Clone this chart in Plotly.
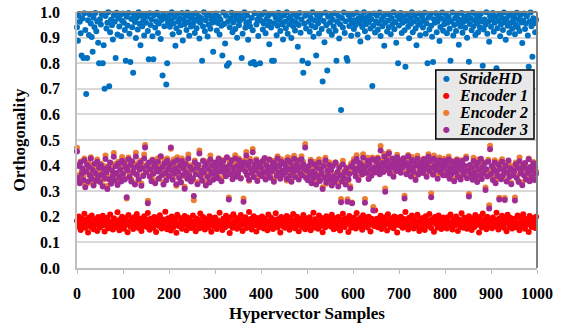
import plotly.graph_objects as go

# Sample indices (every other hypervector sample)
samples = list(range(0, 1000, 2))

# Orthogonality values (x1000), read/
stridehd = [
    940, 888, 985, 962, 917, 830, 975, 820, 995, 930, 680, 820, 968, 910, 990, 955, 902, 845, 978, 940, 996, 925, 963, 880, 800,
    972, 951, 990, 800, 870, 700, 984, 936, 958, 999, 710, 921, 970, 948, 893, 986, 962, 820, 997, 912, 975, 943, 988, 905, 966,
    994, 958, 930, 810, 981, 947, 996, 915, 805, 973, 940, 763, 989, 961, 898, 978, 932, 999, 954, 870, 985, 944, 967, 908, 992,
    958, 981, 926, 815, 995, 949, 972, 905, 815, 988, 939, 964, 997, 918, 955, 983, 895, 969, 752, 990, 944, 976, 717, 800, 960,
    987, 942, 968, 999, 913, 956, 980, 868, 937, 993, 962, 921, 975, 948, 996, 889, 970, 952, 984, 930, 998, 960, 907, 979, 943,
    990, 953, 972, 918, 995, 937, 966, 984, 896, 958, 977, 810, 943, 999, 925, 968, 987, 904, 950, 992, 935, 974, 958, 845, 983,
    965, 994, 928, 957, 981, 912, 970, 946, 830, 998, 953, 877, 985, 790, 962, 800, 940, 976, 997, 921, 959, 988, 934, 971, 899,
    992, 948, 966, 983, 820, 915, 975, 999, 938, 957, 986, 892, 962, 944, 800, 978, 929, 805, 995, 795, 951, 970, 906, 984, 800,
    966, 990, 932, 955, 998, 917, 973, 948, 985, 874, 961, 939, 810, 993, 810, 956, 978, 909, 946, 997, 969, 926, 982, 951, 893,
    987, 962, 937, 999, 915, 974, 952, 983, 898, 966, 944, 991, 928, 958, 980, 864, 949, 996, 919, 971, 810, 763, 955, 985, 936,
    993, 800, 962, 923, 978, 946, 999, 903, 968, 940, 830, 987, 955, 916, 974, 991, 934, 729, 965, 882, 997, 948, 771, 981, 926,
    959, 986, 911, 970, 943, 995, 927, 810, 962, 984, 896, 952, 617, 977, 939, 998, 918, 964, 820, 810, 988, 945, 971, 907, 956,
    991, 934, 968, 949, 997, 912, 975, 957, 885, 983, 941, 966, 999, 925, 952, 979, 900, 960, 987, 936, 972, 711, 946, 994, 920,
    963, 985, 931, 955, 998, 906, 970, 944, 982, 868, 958, 992, 924, 967, 940, 989, 913, 976, 953, 999, 933, 961, 880, 984, 800,
    947, 973, 996, 918, 958, 981, 929, 786, 965, 990, 942, 897, 977, 954, 999, 921, 963, 985, 936, 870, 971, 950, 994, 909, 960,
    983, 939, 968, 997, 915, 955, 800, 978, 932, 989, 946, 903, 805, 972, 958, 995, 921, 963, 984, 887, 941, 975, 998, 927, 952,
    969, 991, 917, 958, 980, 935, 810, 964, 998, 908, 949, 976, 926, 987, 955, 872, 970, 943, 996, 919, 961, 982, 938, 967, 899,
    986, 806, 953, 975, 929, 997, 944, 968, 910, 988, 957, 921, 979, 940, 993, 964, 790, 932, 971, 950, 999, 915, 962, 884, 983,
    942, 970, 996, 923, 958, 981, 780, 937, 966, 990, 905, 952, 977, 930, 998, 961, 892, 974, 946, 985, 919, 956, 993, 935, 968,
    980, 913, 951, 997, 940, 972, 926, 988, 959, 879, 967, 994, 934, 955, 983, 908, 786, 963, 998, 944, 825, 976, 956, 921, 970,
]

encoder1 = [
    185, 162, 201, 174, 148, 193, 178, 166, 212, 157, 188, 171, 139, 197, 182, 160, 205, 176, 151, 190, 168, 184, 145, 199, 173,
    158, 191, 176, 204, 167, 143, 187, 172, 196, 155, 181, 209, 163, 177, 150, 194, 170, 186, 159, 218, 175, 147, 189, 165, 200,
    179, 153, 195, 169, 183, 140, 207, 172, 161, 190, 176, 152, 198, 184, 166, 211, 171, 156, 193, 179, 145, 187, 163, 202, 174,
    188, 160, 215, 177, 149, 192, 168, 185, 157, 199, 173, 141, 196, 181, 164, 206, 170, 154, 189, 176, 162, 220, 183, 151, 194,
    167, 186, 146, 201, 175, 159, 191, 180, 138, 208, 171, 163, 195, 178, 153, 187, 169, 203, 182, 147, 197, 165, 190, 174, 156,
    183, 205, 161, 179, 144, 193, 172, 188, 155, 213, 176, 164, 199, 181, 150, 190, 167, 185, 158, 202, 173, 142, 194, 178, 162,
    197, 170, 152, 186, 175, 216, 163, 180, 148, 192, 177, 159, 204, 184, 166, 189, 137, 198, 172, 157, 210, 181, 168, 195, 153,
    176, 190, 160, 207, 173, 145, 185, 169, 198, 156, 182, 174, 219, 163, 191, 150, 179, 202, 167, 186, 143, 195, 171, 159, 188,
    165, 201, 178, 154, 193, 170, 184, 147, 209, 175, 161, 196, 180, 152, 188, 168, 214, 177, 158, 191, 172, 139, 199, 183, 163,
    189, 157, 174, 203, 168, 182, 149, 196, 176, 162, 211, 185, 155, 178, 200, 166, 144, 192, 173, 187, 160, 207, 179, 151, 194,
    171, 186, 163, 198, 147, 181, 175, 216, 158, 190, 169, 184, 153, 205, 177, 164, 195, 140, 188, 172, 159, 202, 180, 167, 193,
    184, 162, 208, 176, 151, 194, 170, 183, 156, 199, 174, 146, 189, 166, 212, 179, 160, 193, 172, 185, 141, 203, 177, 157, 190,
    168, 197, 180, 154, 215, 173, 188, 161, 195, 177, 149, 206, 183, 166, 190, 172, 158, 200, 181, 143, 192, 170, 186, 164, 226,
    175, 192, 159, 183, 170, 204, 152, 188, 176, 165, 198, 181, 146, 210, 171, 187, 160, 194, 178, 155, 201, 167, 184, 139, 196,
    182, 166, 200, 174, 157, 191, 179, 219, 163, 186, 150, 196, 173, 168, 205, 180, 154, 189, 172, 161, 208, 177, 145, 193, 185,
    160, 195, 178, 148, 202, 170, 187, 164, 211, 176, 156, 190, 182, 142, 199, 173, 186, 158, 205, 169, 191, 152, 180, 197, 167,
    187, 171, 154, 198, 180, 163, 209, 175, 150, 193, 184, 166, 201, 172, 145, 189, 178, 160, 214, 183, 157, 196, 170, 188, 153,
    173, 202, 165, 186, 148, 194, 178, 160, 207, 181, 169, 190, 139, 199, 175, 158, 213, 184, 167, 192, 151, 200, 176, 162, 185,
    179, 155, 197, 170, 188, 163, 216, 174, 150, 193, 182, 166, 204, 171, 157, 189, 177, 144, 208, 185, 162, 196, 173, 154, 190,
    166, 192, 181, 158, 205, 173, 147, 198, 186, 164, 210, 177, 153, 191, 170, 185, 141, 203, 179, 160, 195, 172, 188, 156, 200,
]

encoder2 = [
    470, 361, 404, 343, 416, 377, 384, 357, 428, 326, 379, 411, 332, 407, 369, 433, 363, 385, 332, 403, 381, 348, 424, 371, 396,
    345, 407, 377, 322, 398, 347, 439, 380, 320, 397, 356, 406, 341, 389, 365, 449, 344, 407, 367, 335, 415, 364, 399, 342, 434,
    373, 421, 350, 403, 271, 394, 432, 366, 405, 347, 411, 384, 399, 331, 450, 366, 409, 343, 395, 419, 330, 403, 363, 443, 480,
    386, 402, 263, 407, 370, 393, 350, 424, 377, 398, 343, 400, 382, 429, 351, 394, 433, 373, 402, 335, 421, 375, 358, 428, 392,
    363, 412, 466, 394, 352, 424, 371, 399, 321, 433, 384, 357, 413, 336, 428, 359, 398, 317, 415, 385, 353, 443, 370, 401, 350,
    394, 345, 265, 420, 377, 395, 336, 396, 459, 367, 385, 355, 420, 383, 392, 333, 416, 364, 400, 338, 439, 377, 407, 357, 383,
    407, 377, 404, 362, 429, 387, 399, 351, 396, 422, 385, 396, 368, 429, 393, 275, 412, 379, 423, 362, 400, 380, 440, 360, 408,
    382, 428, 396, 353, 417, 387, 271, 420, 382, 453, 364, 409, 341, 427, 393, 381, 465, 359, 417, 390, 425, 352, 400, 377, 405,
    399, 369, 420, 384, 424, 358, 409, 389, 380, 425, 363, 391, 389, 419, 346, 418, 393, 375, 437, 377, 410, 353, 425, 376, 377,
    418, 376, 405, 342, 433, 393, 364, 427, 339, 402, 372, 438, 362, 410, 396, 422, 361, 403, 375, 437, 365, 414, 383, 484, 359,
    383, 352, 392, 374, 423, 336, 391, 354, 414, 364, 337, 398, 365, 425, 344, 400, 376, 315, 410, 356, 431, 329, 392, 368, 413,
    354, 376, 334, 405, 363, 350, 413, 359, 371, 329, 399, 370, 270, 342, 419, 361, 380, 338, 393, 269, 342, 380, 319, 409, 256,
    387, 426, 380, 362, 440, 391, 354, 406, 389, 409, 374, 444, 390, 270, 406, 377, 431, 352, 416, 379, 373, 432, 238, 395, 382,
    427, 390, 432, 415, 368, 477, 384, 421, 382, 445, 311, 402, 436, 392, 453, 381, 408, 402, 423, 369, 420, 406, 382, 442, 396,
    394, 423, 386, 407, 403, 425, 282, 418, 375, 411, 441, 396, 418, 363, 434, 396, 386, 410, 357, 408, 438, 368, 405, 377, 422,
    408, 385, 427, 398, 408, 367, 404, 444, 392, 422, 291, 401, 370, 439, 405, 393, 409, 362, 403, 432, 378, 417, 382, 374, 427,
    410, 364, 421, 374, 436, 356, 402, 380, 418, 400, 348, 408, 384, 425, 366, 385, 420, 353, 394, 421, 374, 393, 389, 436, 356,
    383, 289, 398, 377, 399, 354, 431, 377, 369, 406, 342, 423, 389, 372, 422, 361, 401, 382, 412, 314, 380, 369, 423, 245, 478,
    377, 394, 355, 392, 421, 344, 380, 374, 412, 274, 400, 351, 425, 357, 394, 273, 410, 341, 381, 414, 367, 398, 332, 398, 363,
    374, 275, 412, 361, 404, 340, 432, 378, 390, 335, 402, 371, 405, 359, 395, 383, 428, 348, 389, 369, 389, 414, 358, 395, 378,
]

encoder3 = [
    455, 352, 398, 331, 412, 367, 389, 344, 421, 315, 376, 402, 338, 395, 361, 428, 349, 383, 322, 407, 370, 341, 415, 358, 392,
    336, 401, 365, 318, 388, 352, 426, 373, 309, 394, 347, 412, 329, 381, 360, 435, 342, 397, 371, 324, 408, 355, 386, 338, 419,
    367, 409, 346, 393, 276, 381, 425, 355, 402, 338, 417, 372, 391, 326, 436, 364, 399, 347, 384, 412, 321, 390, 359, 428, 471,
    374, 398, 253, 412, 357, 386, 339, 421, 368, 404, 331, 392, 377, 415, 349, 384, 437, 362, 395, 326, 408, 371, 343, 419, 386,
    359, 402, 471, 381, 345, 413, 368, 390, 327, 421, 376, 352, 399, 334, 418, 363, 387, 310, 406, 372, 349, 428, 361, 395, 338,
    384, 350, 281, 413, 366, 392, 327, 402, 447, 359, 380, 341, 418, 373, 396, 322, 409, 355, 387, 334, 424, 368, 401, 345, 379,
    412, 364, 397, 351, 426, 378, 405, 339, 388, 417, 371, 394, 358, 433, 382, 268, 403, 366, 419, 347, 391, 374, 428, 356, 398,
    369, 421, 385, 350, 408, 393, 259, 412, 377, 439, 362, 399, 345, 416, 386, 372, 452, 355, 402, 381, 419, 340, 396, 367, 410,
    392, 358, 417, 375, 430, 346, 401, 384, 366, 423, 353, 395, 378, 412, 337, 405, 389, 360, 428, 371, 398, 349, 415, 381, 364,
    407, 373, 396, 348, 421, 385, 359, 413, 337, 392, 376, 427, 355, 401, 383, 418, 346, 394, 369, 425, 361, 404, 388, 471, 352,
    380, 343, 398, 362, 415, 331, 377, 352, 404, 368, 326, 391, 356, 412, 340, 385, 367, 309, 398, 352, 421, 334, 379, 361, 402,
    345, 382, 322, 397, 358, 336, 411, 349, 375, 318, 392, 361, 257, 338, 404, 352, 374, 326, 389, 259, 347, 367, 312, 398, 253,
    393, 414, 372, 357, 426, 389, 344, 410, 378, 402, 365, 431, 386, 255, 397, 371, 419, 348, 406, 384, 360, 425, 225, 392, 373,
    415, 382, 427, 401, 366, 459, 388, 410, 375, 436, 298, 398, 421, 383, 447, 369, 404, 392, 428, 356, 413, 395, 379, 433, 402,
    386, 418, 372, 405, 393, 429, 271, 411, 366, 398, 437, 381, 409, 357, 422, 392, 376, 415, 344, 401, 427, 365, 396, 383, 410,
    403, 371, 425, 388, 412, 356, 397, 435, 379, 418, 276, 392, 364, 427, 401, 383, 414, 349, 396, 421, 375, 408, 388, 362, 419,
    396, 362, 411, 378, 425, 349, 393, 367, 414, 385, 339, 402, 372, 421, 356, 390, 407, 346, 383, 418, 365, 399, 377, 428, 351,
    381, 279, 402, 366, 392, 345, 418, 373, 354, 397, 336, 411, 385, 362, 427, 348, 394, 371, 409, 305, 386, 357, 415, 232, 464,
    367, 398, 344, 385, 412, 331, 376, 359, 403, 268, 388, 347, 415, 362, 381, 266, 399, 338, 372, 420, 355, 390, 327, 384, 361,
    378, 264, 405, 352, 391, 336, 417, 369, 384, 323, 398, 361, 410, 346, 388, 372, 425, 339, 395, 357, 381, 409, 344, 393, 368,
]

series_names = ["StrideHD", "Encoder 1", "Encoder 2", "Encoder 3"]
series_colors = ["#0070C0", "#FF0000", "#ED7D31", "#A02B93"]
series_values = [stridehd, encoder1, encoder2, encoder3]

x_ticks = list(range(0, 1001, 100))
y_ticks = [i / 10 for i in range(11)]

FONT = "Liberation Serif, Times New Roman, serif"

fig = go.Figure()
for name, color, vals in zip(series_names, series_colors, series_values):
    fig.add_trace(go.Scatter(
        x=samples, y=[v / 1000 for v in vals], name=name, mode="markers",
        marker=dict(size=6, color=color, line=dict(width=0)),
        cliponaxis=False, showlegend=False,
    ))

# Legend box (drawn as shapes/annotations so its compact layout matches)
fig.add_shape(type="rect", xref="paper", yref="paper",
              x0=0.780, x1=0.9935, y0=0.504, y1=0.773,
              fillcolor="#e8e8e8", line=dict(color="#000000", width=1.5), layer="above")
leg_y = [0.740, 0.674, 0.607, 0.541]
for name, color, yy in zip(series_names, series_colors, leg_y):
    fig.add_annotation(xref="paper", yref="paper", x=0.804, y=yy, text="●",
                       showarrow=False, xanchor="center", yanchor="middle",
                       font=dict(size=8, color=color, family="DejaVu Sans"))
    fig.add_annotation(xref="paper", yref="paper", x=0.826, y=yy, text=name,
                       showarrow=False, xanchor="left", yanchor="middle",
                       font=dict(size=16, color="#000000", family=FONT,
                                 weight="bold", style="italic"))

# Top and right frame
fig.add_shape(type="line", xref="paper", yref="paper", x0=0, x1=1, y0=1, y1=1,
              line=dict(color="#808080", width=2), layer="above")
fig.add_shape(type="line", xref="paper", yref="paper", x0=1, x1=1, y0=0, y1=1,
              line=dict(color="#808080", width=2), layer="above")

fig.update_layout(
    width=567, height=326,
    margin=dict(l=77, r=30, t=12, b=58, autoexpand=False),
    paper_bgcolor="white", plot_bgcolor="white",
    font=dict(family=FONT, color="#000000"),
    xaxis=dict(
        range=[0, 1000], tickvals=x_ticks, showgrid=False, zeroline=False,
        automargin=False,
        showline=True, linecolor="#bfbfbf", linewidth=1.5,
        ticks="outside", ticklen=4, tickcolor="#bfbfbf", tickwidth=1,
        tickfont=dict(size=16, family=FONT, weight="bold"),
        ticklabelstandoff=6,
        title=dict(text="Hypervector Samples", standoff=6,
                   font=dict(size=17, family=FONT, weight="bold")),
    ),
    yaxis=dict(
        range=[0, 1], tickvals=y_ticks, tickformat=".1f",
        automargin=False,
        showgrid=True, gridcolor="#d9d9d9", gridwidth=1.5, zeroline=False,
        showline=True, linecolor="#bfbfbf", linewidth=1.5, ticks="",
        tickfont=dict(size=16, family=FONT, weight="bold"),
        ticklabelstandoff=12,
        title=dict(text="Orthogonality", standoff=10,
                   font=dict(size=17, family=FONT, weight="bold")),
    ),
)

fig.write_html("out.html")
